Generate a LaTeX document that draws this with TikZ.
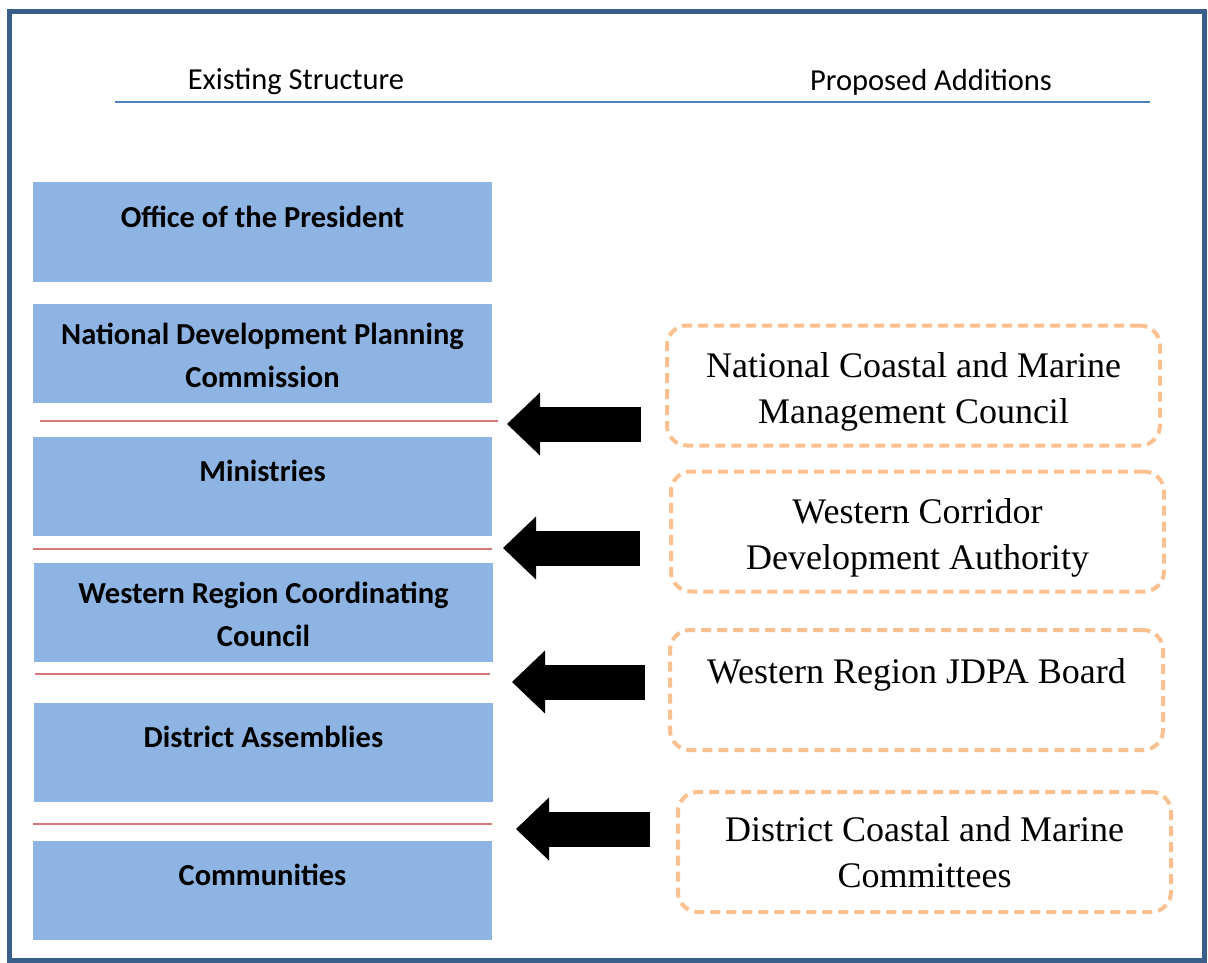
\documentclass[tikz,border=0pt]{standalone}
\usepackage{fontspec}
\setmainfont{Liberation Serif}
\newfontfamily\calibri{Carlito}
\usetikzlibrary{arrows.meta}
\definecolor{framecol}{RGB}{58,95,139}
\definecolor{lvlfill}{RGB}{142,180,227}
\definecolor{rulecol}{RGB}{79,129,189}
\definecolor{sepcol}{RGB}{214,120,120}
\definecolor{addcol}{RGB}{250,192,144}
\begin{document}
\begin{tikzpicture}[x=1pt, y=-1pt,
    lvl/.style={fill=lvlfill, minimum width=459pt, minimum height=99pt, align=center,
      font=\calibri\bfseries\fontsize{30.5}{43}\selectfont},
    oneline/.style={text height=22pt, text depth=32pt},
    twoline/.style={text height=75pt, text depth=7pt},
    add/.style={draw=addcol, line width=4pt, dash pattern=on 10pt off 6pt, rounded corners=20pt,
      minimum width=493pt, minimum height=120pt, align=center, font=\fontsize{36}{46}\selectfont},
    head/.style={font=\calibri\fontsize{30.5}{34}\selectfont},
    sep/.style={draw=sepcol, line width=1.5pt},
    push/.style={line width=35pt, -{Triangle[length=33pt, width=63pt, line width=0pt]}}]
    \useasboundingbox (0,0) rectangle (1208,963);
    \draw[framecol, line width=5pt] (9,12) rectangle (1204,960);

    % headings
    \node[head] (ex) at (296,82) {Existing Structure};
    \node[head] (pr) at (931,82) {Proposed Additions};
    \coordinate (r1) at (115,102);
    \coordinate (r2) at (1150,102);
    \draw[rulecol, line width=1.5pt] (r1) -- (r2);

    % existing structure
    \node[lvl, oneline] (pres) at (262.5,232) {Office of the President};
    \node[lvl, twoline] (ndpc) at (262.5,353) {National Development Planning\\Commission};
    \node[lvl, oneline] (min) at (262.5,486.5) {Ministries};
    \node[lvl, twoline] (wrcc) at (263.5,612.5) {Western Region Coordinating\\Council};
    \node[lvl, oneline] (da) at (263.5,752.5) {District Assemblies};
    \node[lvl, oneline] (com) at (262.5,890) {Communities};

    % separators
    \coordinate (s1a) at (40,421);  \coordinate (s1b) at (498,421);
    \coordinate (s2a) at (33,549);  \coordinate (s2b) at (492,549);
    \coordinate (s3a) at (35,674);  \coordinate (s3b) at (490,674);
    \coordinate (s4a) at (33,824);  \coordinate (s4b) at (492,824);
    \draw[sep] (s1a) -- (s1b);
    \draw[sep] (s2a) -- (s2b);
    \draw[sep] (s3a) -- (s3b);
    \draw[sep] (s4a) -- (s4b);

    % proposed additions
    \node[add, text height=83pt, text depth=8pt] (ncmc) at (913.5,385.5) {National Coastal and Marine\\Management Council};
    \node[add, text height=83pt, text depth=8pt] (wcda) at (917.5,531.5) {Western Corridor\\Development Authority};
    \node[add, text height=25pt, text depth=38pt] (jdpa) at (916.5,690) {Western Region JDPA Board};
    \node[add] (dcmc) at (924.5,852) {District Coastal and Marine\\Committees};

    % arrows
    \coordinate (t1) at (507,424);  \coordinate (t2) at (503,548);
    \coordinate (t3) at (512,682);  \coordinate (t4) at (516,829);
    \draw[push] (ncmc.west |- t1) ++(-24,0) coordinate (a1) (a1) -- (t1);
    \draw[push] (wcda.west |- t2) ++(-29,0) coordinate (a2) (a2) -- (t2);
    \draw[push] (jdpa.west |- t3) ++(-23,0) coordinate (a3) (a3) -- (t3);
    \draw[push] (dcmc.west |- t4) ++(-26,0) coordinate (a4) (a4) -- (t4);
\end{tikzpicture}
\end{document}
